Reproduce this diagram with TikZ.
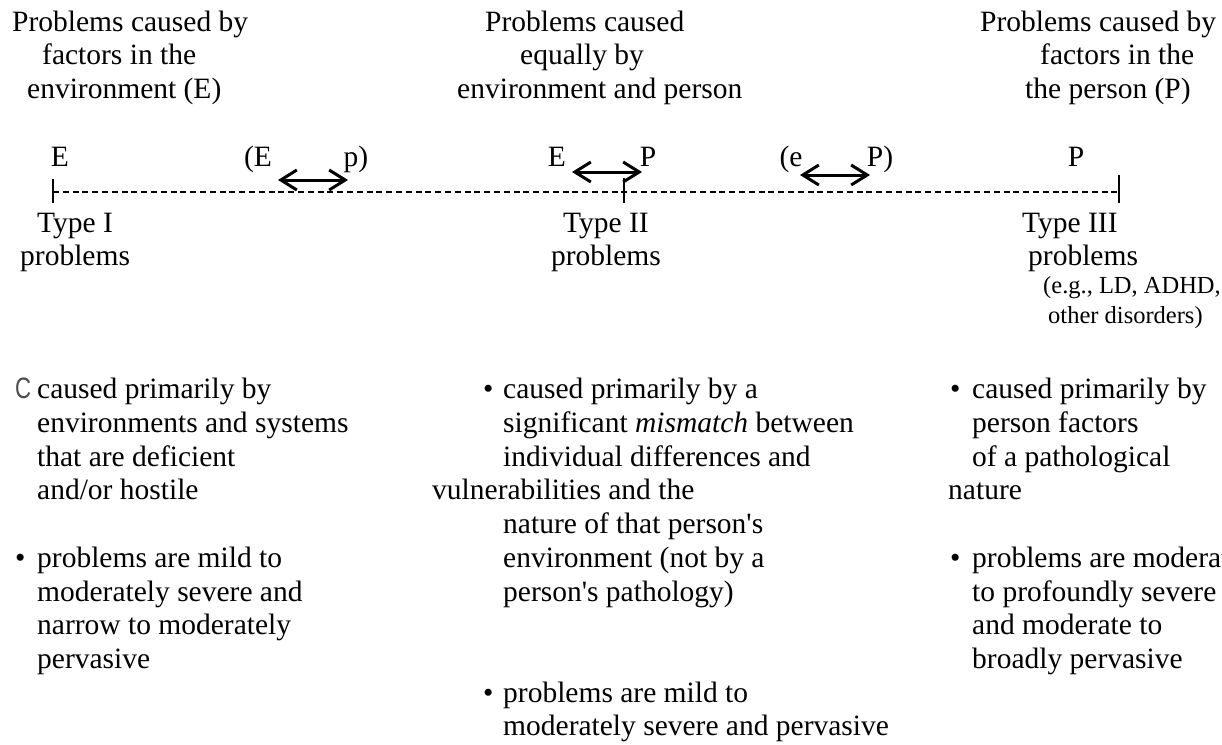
\documentclass[tikz,border=0pt]{standalone}
\usepackage{fontspec}
\setmainfont{Liberation Serif}
\newfontfamily\csym{Liberation Sans}
\usetikzlibrary{arrows.meta}

\tikzset{
  txt/.style={font=\fontsize{29.5}{33.7}\selectfont, inner sep=0pt},
  blk/.style={txt, align=left, anchor=north west},
  ctr/.style={txt, align=center, anchor=north},
  lbl/.style={txt, anchor=base},
  small/.style={font=\fontsize{24.5}{30}\selectfont, inner sep=0pt, align=left, anchor=north west},
  tick/.style={line width=1.3pt},
  axis/.style={line width=1.3pt, dash pattern=on 6pt off 3.8pt},
  twoway/.style={line width=3pt, {Straight Barb[length=16pt,width=20pt]}-{Straight Barb[length=16pt,width=20pt]}}
}

\begin{document}
\begin{tikzpicture}[x=1pt,y=-1pt]
    \useasboundingbox (0,0) rectangle (1222,744);
    % headers
    \node[blk] (hdrE) at (12,7.4) {\strut Problems caused by\\\hspace*{30pt}factors in the\\\hspace*{15pt}environment (E)};
    \node[blk] (hdrEP) at (457,7.4) {\strut\hspace*{28pt}Problems caused\\\hspace*{63pt}equally by\\environment and person};
    \node[blk] (hdrP) at (980,7.4) {\strut Problems caused by\\\hspace*{60pt}factors in the\\\hspace*{45pt}the person (P)};
    % scale labels
    \node[lbl] (lE) at (60,166) {E};
    \node[lbl] (lEp1) at (258,166) {(E};
    \node[lbl] (lEp2) at (356,166) {p)};
    \node[lbl] (lEP1) at (557,166) {E};
    \node[lbl] (lEP2) at (648,166) {P};
    \node[lbl] (leP1) at (791,166) {(e};
    \node[lbl] (leP2) at (880,166) {P)};
    \node[lbl] (lP) at (1076,166) {P};
    % axis
    \coordinate (axI) at (53,192);
    \coordinate (axII) at (624,192);
    \coordinate (axIII) at (1119,192);
    \draw[axis] (axI) -- (axIII);
    \draw[tick] (axI) ++(0,-13) -- ++(0,24);
    \draw[tick] (axII) ++(0,-14) -- ++(0,25);
    \draw[tick] (axIII) ++(0,-17) -- ++(0,28);
    % arrows
    \coordinate (aIl) at (278,180);
    \coordinate (aIr) at (348,180);
    \coordinate (aIIl) at (572,172);
    \coordinate (aIIr) at (642,172);
    \coordinate (aIIIl) at (800,175);
    \coordinate (aIIIr) at (870,175);
    \draw[twoway] (aIl) -- (aIr);
    \draw[twoway] (aIIl) -- (aIIr);
    \draw[twoway] (aIIIl) -- (aIIIr);
    % types
    \node[blk] (typeI) at (20,208.4) {\strut\hspace*{17pt}Type I\\problems};
    \node[ctr] (typeII) at (606,208.4) {\strut Type II\\problems};
    \node[blk] (typeIII) at (1022,208.4) {\strut Type III\\\hspace*{6pt}problems};
    \node[small] (eg) at (1043,272) {\strut(e.g., LD, ADHD,\\\hspace*{5pt}other disorders)};
    % descriptions
    \node[blk] (descI) at (15,375) {\strut\makebox[22pt][l]{\csym\color{black!70}\scalebox{0.75}[1]{C}}caused primarily by\\
      \hspace*{22pt}environments and systems\\
      \hspace*{22pt}that are deficient\\
      \hspace*{22pt}and/or hostile\\[33.7pt]
      \makebox[22pt][l]{•}problems are mild to\\
      \hspace*{22pt}moderately severe and\\
      \hspace*{22pt}narrow to moderately\\
      \hspace*{22pt}pervasive};
    \node[blk] (descII) at (432,375) {\strut\hspace*{51pt}\makebox[20pt][l]{•}caused primarily by a\\
      \hspace*{71pt}significant \textit{mismatch} between\\
      \hspace*{71pt}individual differences and\\
      vulnerabilities and the\\
      \hspace*{71pt}nature of that person\textquotesingle s\\
      \hspace*{71pt}environment (not by a\\
      \hspace*{71pt}person\textquotesingle s pathology)\\[67.4pt]
      \hspace*{51pt}\makebox[20pt][l]{•}problems are mild to\\
      \hspace*{71pt}moderately severe and pervasive};
    \node[blk] (descIII) at (948,375) {\strut\hspace*{2pt}\makebox[22pt][l]{•}caused primarily by\\
      \hspace*{24pt}person factors\\
      \hspace*{24pt}of a pathological\\
      nature\\[33.7pt]
      \hspace*{2pt}\makebox[22pt][l]{•}problems are moderate\\
      \hspace*{24pt}to profoundly severe\\
      \hspace*{24pt}and moderate to\\
      \hspace*{24pt}broadly pervasive};
\end{tikzpicture}
\end{document}
